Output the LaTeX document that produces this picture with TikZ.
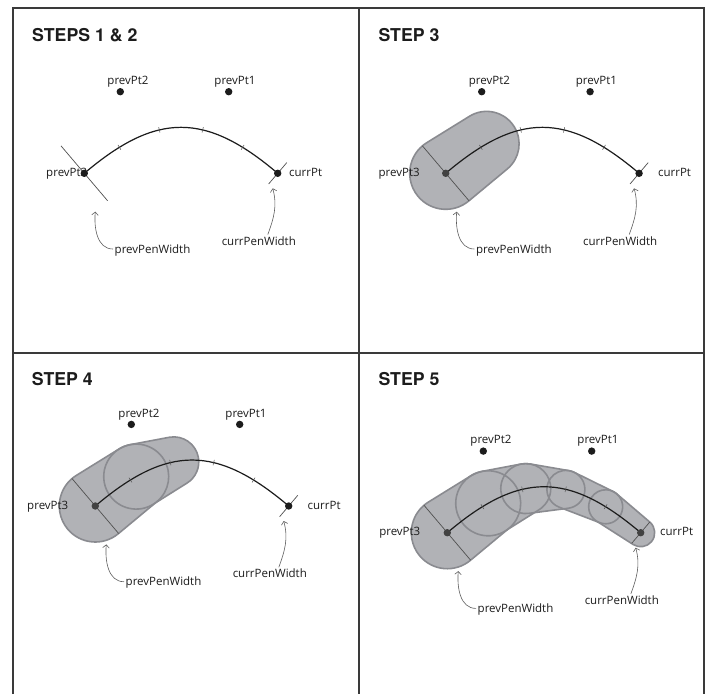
\documentclass[tikz,border=0pt]{standalone}
\usepackage{fontspec}
\setmainfont{Open Sans}
\newfontfamily\titlefont{TeX Gyre Heros}
\usetikzlibrary{calc,decorations.markings,arrows.meta}

\definecolor{framegray}{RGB}{58,58,58}
\definecolor{inkdark}{RGB}{28,28,28}
\definecolor{covered}{RGB}{66,66,66}
\definecolor{thingray}{RGB}{80,80,80}
\definecolor{pointergray}{RGB}{95,95,95}
\definecolor{penfill}{RGB}{177,178,182}
\definecolor{penedge}{RGB}{138,139,144}

\tikzset{
  frame/.style={draw=framegray, line width=2pt},
  steptitle/.style={font=\titlefont\bfseries\fontsize{17.7}{20}\selectfont,
    text=inkdark, anchor=base west, inner sep=0pt},
  ptlabel/.style={font=\fontsize{11.5}{13}\selectfont, text=inkdark, inner sep=0pt},
  ptdot/.style={circle, fill=#1, inner sep=0pt, minimum size=7.4pt},
  tickmark/.style={draw=thingray, line width=0.5pt},
  tickat/.style={postaction={decorate, decoration={markings,
    mark=at position #1 with {\draw[tickmark] (0,-2.8pt) -- (0,2.8pt);}}}},
  stroke path/.style={draw=inkdark, line width=1.2pt,
    tickat=0.2, tickat=0.4, tickat=0.6, tickat=0.8},
  widthmark/.style={draw=thingray, line width=0.7pt},
  penshape/.style={fill=penfill},
  penoutline/.style={draw=penedge, line width=1.6pt},
  pointer/.style={draw=pointergray, line width=0.6pt,
    -{Straight Barb[length=3pt,width=6.5pt]}},
}

% outline of a pen segment: round ends of radius #2 at #1 and #4 at #3
\newcommand\penseg[4]{%
  let \p1=($(#3)-(#1)$), \n1={atan2(\y1,\x1)},
      \n2={acos((#2-#4)/veclen(\x1,\y1))} in
  ($(#1)+(\n1+\n2:#2pt)$) -- ($(#3)+(\n1+\n2:#4pt)$)
  arc[start angle=\n1+\n2, end angle=\n1-\n2, radius=#4pt]
  -- ($(#1)+(\n1-\n2:#2pt)$)
  arc[start angle=\n1-\n2, end angle=\n1+\n2-360, radius=#2pt] -- cycle}

% the four control points and the sample points along the curve
\newcommand\setpoints[1]{%
  \coordinate (#1q3) at (84.3,-173.3);
  \coordinate (#1q2) at (120.3,-91.7);
  \coordinate (#1q1) at (228.7,-91.7);
  \coordinate (#1q0) at (277.7,-173.3);
  \coordinate (#1c1) at (156.5,-112);
  \coordinate (#1c2) at (205.5,-112);
  \path (#1q3) .. controls (#1c1) and (#1c2) .. (#1q0)
    coordinate[pos=0.2] (#1j1) coordinate[pos=0.4] (#1j2)
    coordinate[pos=0.62] (#1j3) coordinate[pos=0.83] (#1j4);
}

% pen-width markers and the smoothed stroke
\newcommand\drawcurve[1]{%
  \draw[widthmark] ($(#1q3)!36pt!90:(#1c1)$) -- ($(#1q3)!36pt!-90:(#1c1)$);
  \draw[widthmark] ($(#1q0)!14pt!90:(#1c2)$) -- ($(#1q0)!14pt!-90:(#1c2)$);
  \draw[stroke path] (#1q3) .. controls (#1c1) and (#1c2) .. (#1q0);
}

% labels and pointers; #2 right edge of prevPt3, #3 left edge of currPt
\newcommand\panellabels[3]{%
  \node[ptlabel, anchor=base] (#1l2) at (128,-84.3) {prevPt2};
  \node[ptlabel, anchor=base] (#1l1) at (235,-84.3) {prevPt1};
  \node[ptlabel, anchor=base east] (#1l3) at (#2,-176.5) {prevPt3};
  \node[ptlabel, anchor=base west] (#1l0) at (#3,-176.5) {currPt};
  \node[ptlabel, anchor=base west] (#1lp) at (114.5,-253) {prevPenWidth};
  \node[ptlabel, anchor=base] (#1lc) at (258.8,-245) {currPenWidth};
  \coordinate (#1tp) at (95.3,-211.7);
  \coordinate (#1tc) at (272.7,-188.3);
  \draw[pointer] ([xshift=-1.5pt,yshift=1pt]#1lp.west) to[out=180,in=-95] (#1tp);
  \draw[pointer] ([xshift=9pt,yshift=1.5pt]#1lc.north) to[out=70,in=-75] (#1tc);
}

% the four points; #2 colour of prevPt3, #3 colour of currPt
\newcommand\pointdots[3]{%
  \node[ptdot=inkdark] (#1n2) at (#1q2) {};
  \node[ptdot=inkdark] (#1n1) at (#1q1) {};
  \node[ptdot=#2] (#1n3) at (#1q3) {};
  \node[ptdot=#3] (#1n0) at (#1q0) {};
}

\begin{document}
\begin{tikzpicture}[x=1pt,y=1pt]
\fill[white] (0,0) rectangle (711,-694);
\useasboundingbox (0,0) rectangle (711,-694);

% frame and dividers
\draw[frame] (13,-694) -- (13,-8.3) -- (704,-8.3) -- (704,-694);
\draw[frame] (359,-8.3) -- (359,-694);
\draw[frame] (13,-353) -- (704,-353);

% titles
\node[steptitle] (title12) at (32,-41.7) {STEPS 1 \& 2};
\node[steptitle] (title3) at (378.3,-41.7) {STEP 3};
\node[steptitle] (title4) at (31.7,-385) {STEP 4};
\node[steptitle] (title5) at (378.3,-385) {STEP 5};

% steps 1 and 2
\begin{scope}
  \setpoints{a}
  \drawcurve{a}
  \panellabels{a}{87.5}{289}
  \pointdots{a}{inkdark}{inkdark}
\end{scope}

% step 3
\begin{scope}[shift={(361.4,0)}]
  \setpoints{b}
  \fill[penshape] \penseg{bq3}{36}{bj1}{32.5};
  \draw[penoutline] \penseg{bq3}{36}{bj1}{32.5};
  \drawcurve{b}
  \panellabels{b}{58.5}{296.5}
  \pointdots{b}{covered}{inkdark}
\end{scope}

% step 4
\begin{scope}[shift={(11,-332.7)}]
  \setpoints{c}
  \fill[penshape] \penseg{cq3}{36}{cj1}{32.5};
  \fill[penshape] \penseg{cj1}{32.5}{cj2}{25};
  \draw[penoutline] \penseg{cq3}{36}{cj1}{32.5};
  \draw[penoutline] \penseg{cj1}{32.5}{cj2}{25};
  \drawcurve{c}
  \panellabels{c}{57.5}{296.5}
  \pointdots{c}{covered}{inkdark}
\end{scope}

% step 5
\begin{scope}[shift={(363,-359.4)}]
  \setpoints{d}
  \fill[penshape] \penseg{dq3}{36}{dj1}{32.5};
  \fill[penshape] \penseg{dj1}{32.5}{dj2}{25};
  \fill[penshape] \penseg{dj2}{25}{dj3}{19};
  \fill[penshape] \penseg{dj3}{19}{dj4}{17};
  \fill[penshape] \penseg{dj4}{17}{dq0}{14};
  \draw[penoutline] \penseg{dq3}{36}{dj1}{32.5};
  \draw[penoutline] \penseg{dj1}{32.5}{dj2}{25};
  \draw[penoutline] \penseg{dj2}{25}{dj3}{19};
  \draw[penoutline] \penseg{dj3}{19}{dj4}{17};
  \draw[penoutline] \penseg{dj4}{17}{dq0}{14};
  \drawcurve{d}
  \panellabels{d}{57.5}{297}
  \pointdots{d}{covered}{covered}
\end{scope}
\end{tikzpicture}
\end{document}
